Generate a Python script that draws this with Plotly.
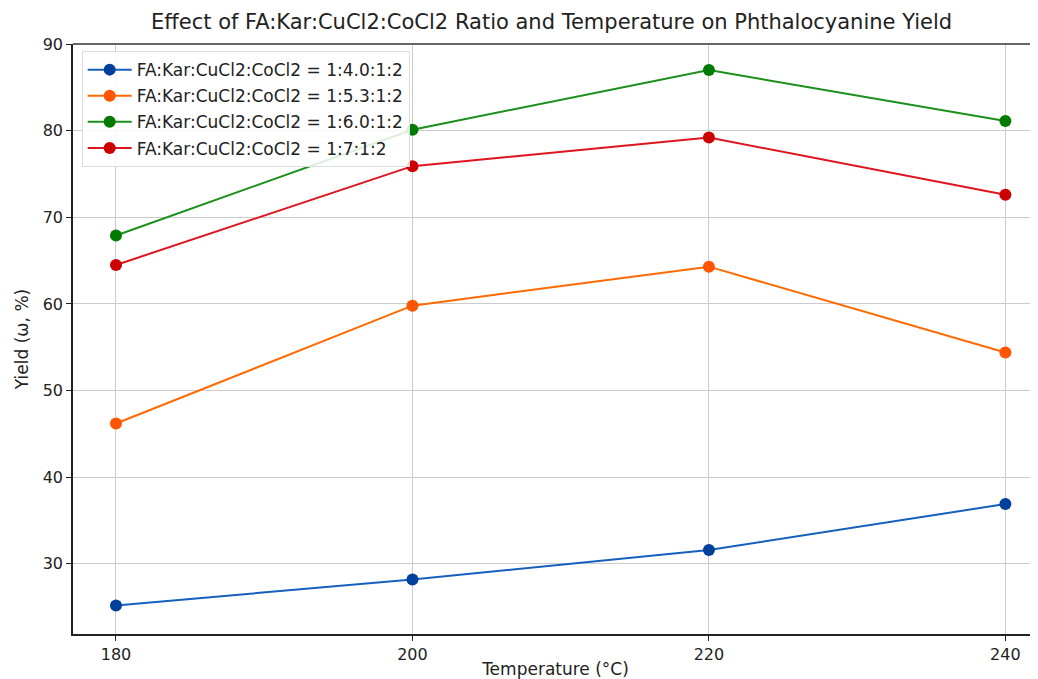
import plotly.graph_objects as go

temperatures = [180, 200, 220, 240]
series_names = [
    "FA:Kar:CuCl2:CoCl2 = 1:4.0:1:2",
    "FA:Kar:CuCl2:CoCl2 = 1:5.3:1:2",
    "FA:Kar:CuCl2:CoCl2 = 1:6.0:1:2",
    "FA:Kar:CuCl2:CoCl2 = 1:7:1:2",
]
yield_1_4 = [25.2, 28.2, 31.6, 36.9]
yield_1_53 = [46.2, 59.8, 64.3, 54.4]
yield_1_6 = [67.9, 80.1, 87.0, 81.1]
yield_1_7 = [64.5, 75.9, 79.2, 72.6]
y_ticks = [30, 40, 50, 60, 70, 80, 90]
x_ticks = [180, 200, 220, 240]

line_colors = ["#1560bd", "#ff6a00", "#1a8f1a", "#e0141e"]
marker_colors = ["#003f9a", "#ff5500", "#007a00", "#cc0000"]
all_series = [yield_1_4, yield_1_53, yield_1_6, yield_1_7]

font_family = "DejaVu Sans, Arial, sans-serif"

# page body has an 8px margin; shrink figure so it fits the 1038x679 window
W, H = 1030, 671

fig = go.Figure()
for i, (name, vals) in enumerate(zip(series_names, all_series)):
    fig.add_trace(go.Scatter(
        x=temperatures, y=vals, name=name, mode="lines+markers",
        legendgroup=f"g{i}",
        line=dict(color=line_colors[i], width=2),
        marker=dict(color=marker_colors[i], size=12),
    ))

fig.update_layout(
    width=W, height=H,
    margin=dict(l=65, r=0, t=36, b=45),
    paper_bgcolor="white", plot_bgcolor="white",
    font=dict(family=font_family, size=16, color="#222"),
    title=dict(
        text="Effect of FA:Kar:CuCl2:CoCl2 Ratio and Temperature on Phthalocyanine Yield",
        x=0.496, xref="paper", xanchor="center",
        y=1 - 14 / H, yref="container", yanchor="middle",
        font=dict(size=21, color="#222", family=font_family),
    ),
    legend=dict(
        x=0.009, y=0.988, xanchor="left", yanchor="top",
        bgcolor="rgba(255,255,255,0.85)", bordercolor="#dddddd", borderwidth=1,
        font=dict(size=17, color="#222"),
        tracegroupgap=1, itemwidth=44,
    ),
    showlegend=True,
)
fig.update_xaxes(
    range=[177.1, 242.2], tickvals=x_ticks, ticks="outside", ticklen=5,
    tickcolor="#222", showline=True, linecolor="#222", linewidth=1.5,
    showgrid=True, gridcolor="#cccccc", gridwidth=1, zeroline=False,
    title=dict(text="Temperature (°C)", font=dict(size=17), standoff=6),
    tickfont=dict(size=16), automargin=False,
)
fig.update_yaxes(
    range=[21.9, 90], tickvals=y_ticks, ticks="outside", ticklen=5,
    tickcolor="#222", showline=True, linecolor="#222", linewidth=1.5,
    showgrid=True, gridcolor="#cccccc", gridwidth=1, zeroline=False,
    title=dict(text="Yield (ω, %)", font=dict(size=17), standoff=10),
    tickfont=dict(size=16), automargin=False,
)
fig.add_shape(type="line", xref="paper", yref="paper", x0=0, x1=1, y0=1, y1=1,
              line=dict(color="#666666", width=2))

fig.write_html("out.html")
